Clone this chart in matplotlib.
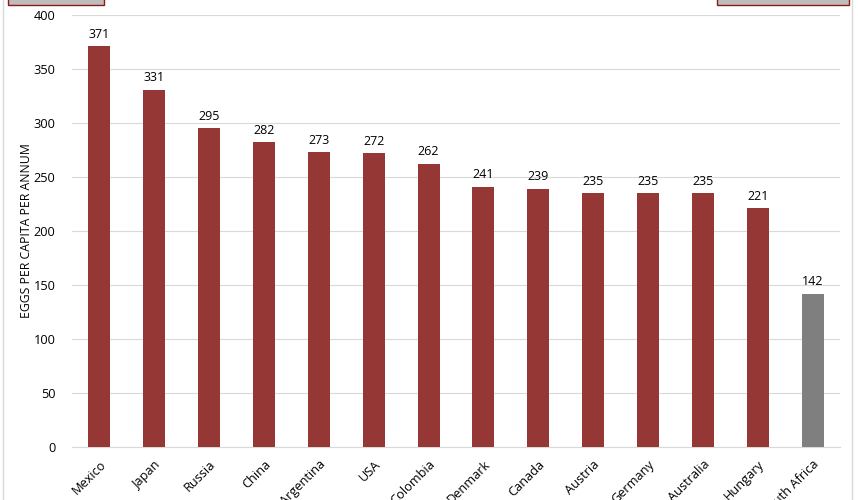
import matplotlib.pyplot as plt
from matplotlib.patches import Rectangle
from matplotlib.lines import Line2D

# Dados
paises = ["Mexico", "Japan", "Russia", "China", "Argentina", "USA", "Colombia",
          "Denmark", "Canada", "Austria", "Germany", "Australia", "Hungary",
          "South Africa"]
ovos = [371, 331, 295, 282, 273, 272, 262, 241, 239, 235, 235, 235, 221, 142]
destaque = "South Africa"

cor_barra = "#953735"
cor_destaque = "#7f7f7f"
cor_grade = "#d9d9d9"

plt.rcParams["font.family"] = ["Open Sans", "DejaVu Sans"]

fig = plt.figure(figsize=(8.58, 5), dpi=100)
ax = fig.add_axes([72 / 858, 1 - 447 / 500, (840 - 72) / 858, (447 - 15) / 500])

cores = [cor_destaque if p == destaque else cor_barra for p in paises]
x = range(len(paises))
barras = ax.bar(x, ovos, width=0.4, color=cores, zorder=3)

for b, v in zip(barras, ovos):
    ax.annotate(f"{v}", (b.get_x() + b.get_width() / 2, v),
                xytext=(0, 4), textcoords="offset points",
                ha="center", va="bottom", fontsize=9, color="#000000")

ax.set_xlim(-0.5, len(paises) - 0.5)
ax.set_ylim(0, 400)
ax.set_yticks(range(0, 401, 50))
ax.yaxis.grid(True, color=cor_grade, linewidth=0.8, zorder=0)
ax.set_axisbelow(True)

for s in ["top", "right", "left"]:
    ax.spines[s].set_visible(False)
ax.spines["bottom"].set_color(cor_grade)
ax.spines["bottom"].set_linewidth(0.8)

ax.tick_params(axis="both", length=0, labelsize=9.2, colors="#000000")
ax.tick_params(axis="y", pad=12)
ax.set_xticks(list(x))
ax.set_xticklabels(paises, rotation=45, ha="right", va="top",
                   rotation_mode="anchor")
ax.tick_params(axis="x", pad=8)

ax.set_ylabel("EGGS PER CAPITA PER ANNUM", fontsize=8.8)
ax.yaxis.set_label_coords(-(72 - 33) / 768, 0.5)

# Bordas e caixas do topo
fig.add_artist(Line2D([3 / 858, 3 / 858], [0, 1], color=cor_grade, linewidth=1))
fig.add_artist(Line2D([852 / 858, 852 / 858], [0, 1], color=cor_grade, linewidth=1))
fig.add_artist(Rectangle((8 / 858, 1 - 5 / 500), 96 / 858, 0.05,
                         facecolor="#c0bcbc", edgecolor="#8b1a1a", linewidth=1))
fig.add_artist(Rectangle((717 / 858, 1 - 5 / 500), 132 / 858, 0.05,
                         facecolor="#c0bcbc", edgecolor="#8b1a1a", linewidth=1))

fig.savefig("out.png", dpi=100)
plt.close()
